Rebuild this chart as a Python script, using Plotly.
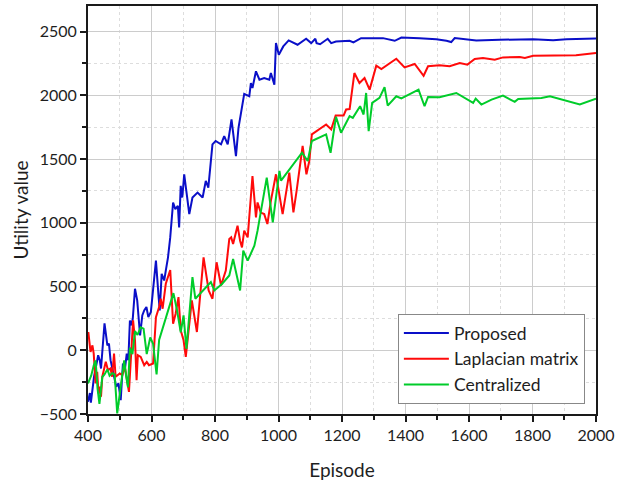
import plotly.graph_objects as go

# ---- data ----
prop_x = [400,406,409,419,432,437,441,452,461,466,471,485,489,496,503,510,516,522,527,532,536,541,548,555,561,564,571,577,584,590,598,608,614,622,626,632,640,645,652,659,668,675,683,687,692,697,703,711,719,729,745,761,771,779,792,802,819,829,840,852,866,874,892,908,913,918,929,940,955,971,976,987,992,1001,1015,1032,1060,1087,1103,1116,1120,1131,1155,1166,1181,1224,1236,1260,1329,1366,1387,1444,1497,1529,1544,1555,1602,1623,1697,1802,1865,1907,2000]
prop_y = [-404,-336,-411,-208,-39,-78,-143,211,39,52,-78,-234,-286,-260,-391,-104,-156,-26,-78,234,195,247,482,391,182,117,273,313,339,260,300,573,703,430,313,599,547,625,729,885,1159,1107,1133,963,1289,1198,1380,1224,1068,1198,1237,1198,1328,1276,1615,1641,1615,1680,1615,1810,1523,1745,2011,1992,2096,2057,2188,2122,2135,2122,2174,2083,2409,2318,2383,2430,2396,2443,2409,2443,2409,2400,2443,2409,2422,2427,2414,2448,2448,2427,2453,2448,2440,2427,2417,2448,2432,2430,2435,2440,2432,2440,2445]

lap_x = [401,408,414,418,424,429,433,437,441,445,456,463,471,476,482,487,500,508,516,522,529,542,548,553,557,566,577,585,592,605,614,624,629,635,645,659,668,676,685,692,701,708,717,727,743,764,780,792,805,819,834,845,851,857,871,879,885,892,903,918,929,934,944,955,965,976,992,1003,1013,1034,1047,1057,1076,1088,1097,1105,1129,1150,1166,1180,1205,1213,1224,1239,1255,1271,1287,1308,1324,1371,1397,1429,1457,1471,1507,1539,1571,1595,1618,1644,1681,1707,1760,1776,1802,1907,1937,2000]
lap_y = [143,-13,39,-26,-260,-169,-339,-286,-365,-208,-91,-156,-143,-208,-26,-208,-182,-195,-130,-208,-326,234,78,-234,-39,-52,-117,-91,-117,-104,260,339,404,326,521,630,208,286,417,156,78,-52,156,391,143,729,469,404,690,508,625,872,885,833,977,859,807,938,885,1367,1042,1159,1080,1068,990,1172,1380,1224,1068,1393,1081,1250,1602,1380,1484,1693,1732,1771,1732,1841,1841,1888,1892,2174,2096,2135,2044,2232,2206,2286,2219,2245,2153,2227,2235,2227,2253,2240,2284,2292,2279,2297,2300,2292,2310,2310,2313,2331]

cen_x = [400,410,418,424,430,436,445,452,461,468,476,484,492,503,514,520,526,532,540,548,556,566,575,585,596,605,616,624,650,669,680,692,701,710,729,738,787,798,822,845,857,879,889,903,924,934,963,982,1003,1008,1074,1092,1105,1150,1164,1181,1197,1224,1234,1257,1268,1276,1284,1295,1318,1334,1344,1371,1387,1441,1460,1471,1507,1539,1560,1613,1621,1639,1671,1707,1744,1755,1802,1828,1855,1949,2000]
cen_y = [-260,-200,-120,-80,-300,-420,-210,-190,-150,-200,-180,-190,-495,-290,-80,-200,-290,20,-30,150,120,180,170,-30,100,50,-190,80,300,448,320,140,273,10,573,404,534,469,520,586,716,469,781,703,820,938,1354,1003,1406,1330,1549,1484,1641,1693,1549,1831,1706,1836,1823,1914,1849,2018,1719,1940,1979,2063,1919,1992,1975,2044,1914,1987,1985,2005,2018,1940,1974,1927,1966,1997,1948,1971,1979,1979,1992,1927,1974]

names = ["Proposed", "Laplacian matrix", "Centralized"]
colors = ["#0a0fc8", "#ff0a0a", "#00cc2a"]

FONT = "Lato, Open Sans, sans-serif"

fig = go.Figure()
for i, (xs, ys) in enumerate([(prop_x, prop_y), (lap_x, lap_y), (cen_x, cen_y)]):
    fig.add_trace(go.Scatter(x=xs, y=ys, mode="lines", name=names[i],
                             legendgroup=f"g{i}",
                             line=dict(color=colors[i], width=2)))

axis_common = dict(
    showline=True, linecolor="#1a1a1a", linewidth=2, mirror=True,
    ticks="outside", ticklen=6, tickwidth=1.5, tickcolor="#1a1a1a",
    showgrid=True, gridcolor="#cccccc", gridwidth=1,
    zeroline=False,
    tickfont=dict(family=FONT, size=16, color="#1e1e1e"),
)

fig.update_xaxes(range=[400, 2000], dtick=200, tick0=400,
                 minor=dict(dtick=100, ticks="outside", ticklen=4, tickcolor="#1a1a1a",
                            showgrid=True, gridcolor="#dddddd", griddash="dot"),
                 title=dict(text="Episode", font=dict(family=FONT, size=19, color="#1e1e1e"), standoff=20),
                 **axis_common)
fig.update_yaxes(range=[-500, 2700], dtick=500, tick0=0,
                 minor=dict(dtick=250, ticks="outside", ticklen=4, tickcolor="#1a1a1a",
                            showgrid=True, gridcolor="#dddddd", griddash="dot"),
                 title=dict(text="Utility value", font=dict(family=FONT, size=19, color="#1e1e1e"), standoff=6),
                 **axis_common)

fig.update_layout(
    width=635, height=487,
    margin=dict(l=88, r=39, t=4, b=73),
    paper_bgcolor="white", plot_bgcolor="white",
    font=dict(family=FONT, color="#1e1e1e"),
    legend=dict(x=0.61, y=0.245, xanchor="left", yanchor="top",
                bgcolor="rgba(255,255,255,1)", bordercolor="#888", borderwidth=1,
                font=dict(family=FONT, size=17.5, color="#1e1e1e"),
                itemwidth=45, tracegroupgap=0),
)

fig.write_html("out.html")
